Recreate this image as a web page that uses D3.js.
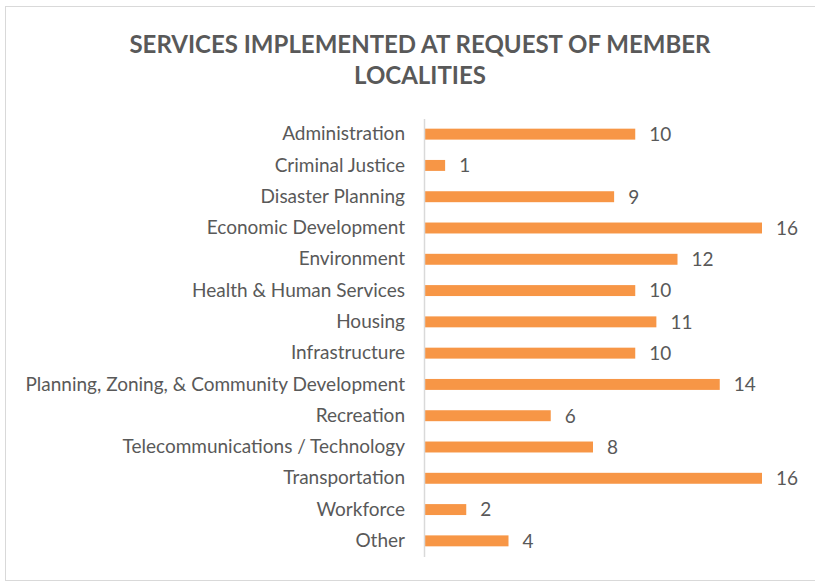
<!DOCTYPE html>
<meta charset="utf-8">
<title>services chart</title>
<style>
    body { margin: 0; background: #fff; }
    text { font-family: Lato, "Open Sans", sans-serif; fill: #595959; }
</style>
<body>
<script src="https://d3js.org/d3.v7.min.js"></script>
<div id="chart"></div>
<script>
    var categories = [
        "Administration", "Criminal Justice", "Disaster Planning", "Economic Development",
        "Environment", "Health & Human Services", "Housing", "Infrastructure",
        "Planning, Zoning, & Community Development", "Recreation",
        "Telecommunications / Technology", "Transportation", "Workforce", "Other"
    ];
    var values = [10, 1, 9, 16, 12, 10, 11, 10, 14, 6, 8, 16, 2, 4];
    var titleLines = ["SERVICES IMPLEMENTED AT REQUEST OF MEMBER", "LOCALITIES"];

    var width = 815, height = 582;

    var svg = d3.select("#chart").append("svg")
        .attr("width", width)
        .attr("height", height);

    // chart border
    svg.append("rect")
        .attr("x", 5.5).attr("y", 6.5)
        .attr("width", 820).attr("height", 574)
        .style("fill", "#fff")
        .style("stroke", "#d9d9d9");

    svg.selectAll(".title")
        .data(titleLines)
        .enter().append("text")
        .attr("class", "title")
        .attr("x", 420)
        .attr("y", (d, i) => 53 + i * 31)
        .style("text-anchor", "middle")
        .style("font-size", "24px")
        .style("font-weight", "bold")
        .text(d => d);

    var x = d3.scaleLinear().domain([0, 16]).range([424, 762]);
    var y = d3.scaleBand().domain(categories).range([118.5, 556.5]).paddingInner(0.65).paddingOuter(0.325);

    svg.selectAll(".bar")
        .data(values)
        .enter().append("rect")
        .attr("class", "bar")
        .attr("x", x(0))
        .attr("y", (d, i) => y(categories[i]))
        .attr("width", d => x(d) - x(0))
        .attr("height", y.bandwidth())
        .style("fill", "#f79646");

    svg.selectAll(".val")
        .data(values)
        .enter().append("text")
        .attr("class", "val")
        .attr("x", d => x(d) + 14)
        .attr("y", (d, i) => y(categories[i]) + y.bandwidth() / 2)
        .attr("dy", "0.36em")
        .style("font-size", "19px")
        .text(d => d);

    var axis = d3.axisLeft(y).tickSize(0).tickPadding(19);
    var ga = svg.append("g")
        .attr("transform", "translate(" + x(0) + ",0)")
        .call(axis);
    ga.select(".domain").style("stroke", "#d9d9d9").style("stroke-width", 1.5);
    ga.selectAll("text")
        .style("font-size", "19px")
        .style("font-family", null)
        .attr("fill", null);
</script>
</body>
